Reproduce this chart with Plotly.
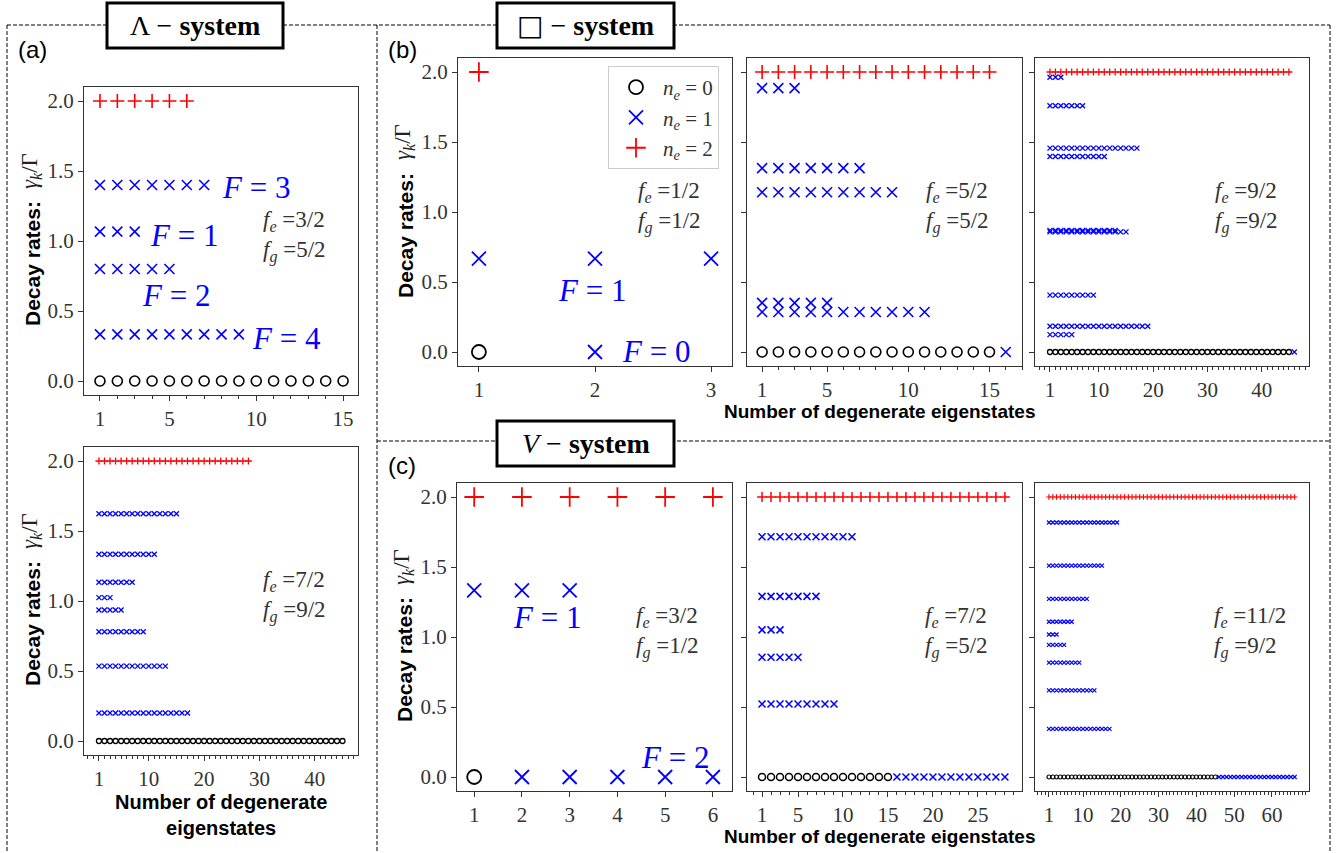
import plotly.graph_objects as go

W, H = 1342, 853

# ---------------- data ----------------
# each panel: number of n_e=0 states, n_e=2 states,
# n_e=1 decay-rate levels with their degeneracies, and n_e=1 states with zero rate
A1_N0, A1_N2 = 15, 6
A1_RATES = [1.4, 1.067, 0.8, 0.333]
A1_COUNTS = [7, 3, 5, 9]
A1_ZERO = 0

A2_N0, A2_N2 = 45, 28
A2_RATES = [1.623, 1.334, 1.134, 1.024, 0.936, 0.780, 0.535, 0.200]
A2_COUNTS = [15, 11, 7, 3, 5, 9, 13, 17]
A2_ZERO = 0

B1_N0, B1_N2 = 1, 1
B1_RATES = [0.667]
B1_COUNTS = [3]
B1_ZERO = 1

B2_N0, B2_N2 = 15, 15
B2_RATES = [1.885, 1.313, 1.141, 0.351, 0.286]
B2_COUNTS = [3, 7, 9, 5, 11]
B2_ZERO = 1

B3_N0, B3_N2 = 45, 45
B3_RATES = [1.962, 1.759, 1.456, 1.396, 0.868, 0.858, 0.406, 0.184, 0.124]
B3_COUNTS = [3, 7, 17, 11, 13, 15, 9, 19, 5]
B3_ZERO = 1

C1_N0, C1_N2 = 1, 6
C1_RATES = [1.333]
C1_COUNTS = [3]
C1_ZERO = 5

C2_N0, C2_N2 = 15, 28
C2_RATES = [1.716, 1.290, 1.051, 0.855, 0.521]
C2_COUNTS = [11, 7, 3, 5, 9]
C2_ZERO = 13

C3_N0, C3_N2 = 45, 66
C3_RATES = [1.818, 1.510, 1.272, 1.109, 1.018, 0.944, 0.817, 0.619, 0.344]
C3_COUNTS = [19, 15, 11, 7, 3, 5, 9, 13, 17]
C3_ZERO = 21

Y_TICKS = [0, 0.5, 1.0, 1.5, 2.0]
Y_TICK_TEXT = ["0.0", "0.5", "1.0", "1.5", "2.0"]
A1_XTICKS = [1, 5, 10, 15]
A2_XTICKS = [1, 10, 20, 30, 40]
B1_XTICKS = [1, 2, 3]
B2_XTICKS = [1, 5, 10, 15]
B3_XTICKS = [1, 10, 20, 30, 40]
C1_XTICKS = [1, 2, 3, 4, 5, 6]
C2_XTICKS = [1, 5, 10, 15, 20, 25]
C3_XTICKS = [1, 10, 20, 30, 40, 50, 60]

FE_FG = {
    "a1": ("3/2", "5/2"), "a2": ("7/2", "9/2"),
    "b1": ("1/2", "1/2"), "b2": ("5/2", "5/2"), "b3": ("9/2", "9/2"),
    "c1": ("3/2", "1/2"), "c2": ("7/2", "5/2"), "c3": ("11/2", "9/2"),
}

SERIF = "Liberation Serif"
SANS = "Liberation Sans"
BLUE = "#0000ff"
RED = "#ff0000"


def px_x(p):
    return p / W


def px_y(p):
    return 1 - p / H


panels = [
    dict(key="a1", box=(84, 358, 87, 395), xr=(0.08, 15.86), n0=A1_N0, n2=A1_N2, rates=A1_RATES,
         counts=A1_COUNTS, zero=A1_ZERO, ticks=A1_XTICKS, minor=True, ms=10, lw=1.6, ylab=32, fx=261),
    dict(key="a2", box=(84, 358, 447, 755), xr=(-1.7, 47.8), n0=A2_N0, n2=A2_N2, rates=A2_RATES,
         counts=A2_COUNTS, zero=A2_ZERO, ticks=A2_XTICKS, minor=True, ms=5, lw=1.3, ylab=32, fx=261),
    dict(key="b1", box=(458, 732, 58, 366), xr=(0.82, 3.18), n0=B1_N0, n2=B1_N2, rates=B1_RATES,
         counts=B1_COUNTS, zero=B1_ZERO, ticks=B1_XTICKS, minor=False, ms=14, lw=1.8, ylab=405, fx=636),
    dict(key="b2", box=(747, 1022, 58, 366), xr=(0.07, 17.0), n0=B2_N0, n2=B2_N2, rates=B2_RATES,
         counts=B2_COUNTS, zero=B2_ZERO, ticks=B2_XTICKS, minor=True, ms=10, lw=1.6, ylab=None, fx=924),
    dict(key="b3", box=(1035, 1309, 58, 366), xr=(-1.76, 48.7), n0=B3_N0, n2=B3_N2, rates=B3_RATES,
         counts=B3_COUNTS, zero=B3_ZERO, ticks=B3_XTICKS, minor=True, ms=5, lw=1.3, ylab=None, fx=1213),
    dict(key="c1", box=(457, 732, 483, 791), xr=(0.64, 6.4), n0=C1_N0, n2=C1_N2, rates=C1_RATES,
         counts=C1_COUNTS, zero=C1_ZERO, ticks=C1_XTICKS, minor=False, ms=14, lw=1.8, ylab=404, fx=634),
    dict(key="c2", box=(747, 1022, 483, 791), xr=(-0.67, 29.9), n0=C2_N0, n2=C2_N2, rates=C2_RATES,
         counts=C2_COUNTS, zero=C2_ZERO, ticks=C2_XTICKS, minor=True, ms=7, lw=1.5, ylab=None, fx=923),
    dict(key="c3", box=(1035, 1309, 483, 791), xr=(-2.7, 69.8), n0=C3_N0, n2=C3_N2, rates=C3_RATES,
         counts=C3_COUNTS, zero=C3_ZERO, ticks=C3_XTICKS, minor=True, ms=4, lw=1.2, ylab=None, fx=1212),
]

fig = go.Figure()
layout = dict(width=W, height=H, margin=dict(l=0, r=0, t=0, b=0),
              paper_bgcolor="white", plot_bgcolor="white", showlegend=True)
annotations = []
shapes = []

for i, p in enumerate(panels, start=1):
    xa = "x" if i == 1 else f"x{i}"
    ya = "y" if i == 1 else f"y{i}"
    xkey = "xaxis" if i == 1 else f"xaxis{i}"
    ykey = "yaxis" if i == 1 else f"yaxis{i}"
    l, r, t, b = p["box"]
    show = p["key"] == "b1"

    # n_e = 0
    x0 = list(range(1, p["n0"] + 1))
    fig.add_trace(go.Scatter(
        x=x0, y=[0.0] * len(x0), mode="markers", xaxis=xa, yaxis=ya,
        name="<i>n</i><sub><i>e</i></sub> = 0", showlegend=show, legendrank=1,
        marker=dict(symbol="circle-open", size=p["ms"], color="black",
                    line=dict(color="black", width=p["lw"]))))
    # n_e = 1
    x1, y1 = [], []
    for rate, cnt in zip(p["rates"], p["counts"]):
        for k in range(cnt):
            x1.append(k + 1)
            y1.append(rate)
    for k in range(p["zero"]):
        x1.append(p["n0"] + 1 + k)
        y1.append(0.0)
    fig.add_trace(go.Scatter(
        x=x1, y=y1, mode="markers", xaxis=xa, yaxis=ya,
        name="<i>n</i><sub><i>e</i></sub> = 1", showlegend=show, legendrank=2,
        marker=dict(symbol="x-thin-open", size=p["ms"], color=BLUE,
                    line=dict(color=BLUE, width=p["lw"]))))
    # n_e = 2
    x2 = list(range(1, p["n2"] + 1))
    fig.add_trace(go.Scatter(
        x=x2, y=[2.0] * len(x2), mode="markers", xaxis=xa, yaxis=ya,
        name="<i>n</i><sub><i>e</i></sub> = 2", showlegend=show, legendrank=3,
        marker=dict(symbol="cross-thin-open", size=p["ms"], color=RED,
                    line=dict(color=RED, width=p["lw"]))))

    xaxis = dict(domain=[px_x(l), px_x(r)], range=list(p["xr"]), anchor=ya,
                 tickmode="array", tickvals=p["ticks"], ticktext=[str(v) for v in p["ticks"]],
                 ticks="outside", ticklen=5, tickwidth=1, tickcolor="#333",
                 showline=True, linecolor="#333", linewidth=1, mirror=True,
                 showgrid=False, zeroline=False,
                 tickfont=dict(family=SERIF, size=21, color="#333"))
    if p["minor"]:
        xaxis["minor"] = dict(ticks="outside", ticklen=3, tickwidth=1, tickcolor="#333",
                              tickmode="linear", tick0=0, dtick=1, showgrid=False)
    yaxis = dict(domain=[px_y(b), px_y(t)], range=[-0.1, 2.1], anchor=xa,
                 tickmode="array", tickvals=Y_TICKS, ticktext=Y_TICK_TEXT,
                 ticks="outside", ticklen=5, tickwidth=1, tickcolor="#333",
                 showticklabels=p["ylab"] is not None,
                 showline=True, linecolor="#333", linewidth=1, mirror=True,
                 showgrid=False, zeroline=False,
                 tickfont=dict(family=SERIF, size=21, color="#333"))
    layout[xkey] = xaxis
    layout[ykey] = yaxis

    fe, fg = FE_FG[p["key"]]
    annotations.append(dict(xref="paper", yref=ya, x=px_x(p["fx"]), y=1.14, xanchor="left", yanchor="middle",
                            showarrow=False, text="<i>f</i><sub><i>e</i></sub> =" + fe,
                            font=dict(family=SERIF, size=23, color="#333")))
    annotations.append(dict(xref="paper", yref=ya, x=px_x(p["fx"]), y=0.925, xanchor="left", yanchor="middle",
                            showarrow=False, text="<i>f</i><sub><i>g</i></sub> =" + fg,
                            font=dict(family=SERIF, size=23, color="#333")))

    if p["ylab"] is not None:
        cy = (t + b) / 2
        annotations.append(dict(xref="paper", yref="paper", x=px_x(p["ylab"]), y=px_y(cy + 23),
                                xanchor="center", yanchor="middle", textangle=-90, showarrow=False,
                                text="<b>Decay rates:</b>",
                                font=dict(family=SANS, size=21, color="black")))
        annotations.append(dict(xref="paper", yref="paper", x=px_x(p["ylab"] - 1), y=px_y(cy - 70),
                                xanchor="center", yanchor="middle", textangle=-90, showarrow=False,
                                text="<i>γ</i><sub><i>k</i></sub>/Γ",
                                font=dict(family=SERIF, size=23, color="#222")))

# F labels
F_LABELS = [
    ("3", 222, 187), ("1", 150, 235), ("2", 142, 295), ("4", 252, 338),
    ("1", 558, 290), ("0", 622, 352),
    ("1", 513, 617), ("2", 641, 757),
]
for num, lx, cy in F_LABELS:
    annotations.append(dict(xref="paper", yref="paper", x=px_x(lx - 2), y=px_y(cy), xanchor="left",
                            yanchor="middle", showarrow=False,
                            text="<i>F</i> = " + num,
                            font=dict(family=SERIF, size=31, color=BLUE)))

# x axis titles
annotations.append(dict(xref="paper", yref="paper", x=px_x(221), y=px_y(815), xanchor="center",
                        yanchor="middle", showarrow=False,
                        text="<b>Number of degenerate</b><br><b>eigenstates</b>",
                        font=dict(family=SANS, size=20, color="black")))
annotations.append(dict(xref="paper", yref="paper", x=px_x(880), y=px_y(411), xanchor="center",
                        yanchor="middle", showarrow=False, text="<b>Number of degenerate eigenstates</b>",
                        font=dict(family=SANS, size=19, color="black")))
annotations.append(dict(xref="paper", yref="paper", x=px_x(880), y=px_y(836), xanchor="center",
                        yanchor="middle", showarrow=False, text="<b>Number of degenerate eigenstates</b>",
                        font=dict(family=SANS, size=19, color="black")))

# panel letters
for txt, lx, cy in [("(a)", 16, 50), ("(b)", 386, 50), ("(c)", 386, 465)]:
    annotations.append(dict(xref="paper", yref="paper", x=px_x(lx), y=px_y(cy), xanchor="left",
                            yanchor="middle", showarrow=False, text=txt,
                            font=dict(family=SANS, size=24, color="black")))

# dashed frames
dash = dict(color="black", width=1, dash="4px,2px")
for (x0_, y0_, x1_, y1_) in [(7, 25, 7, 860), (7, 25, 1330, 25), (377, 25, 377, 860),
                             (1330, 25, 1330, 860), (377, 441, 1330, 441)]:
    shapes.append(dict(type="line", xref="paper", yref="paper", x0=px_x(x0_), y0=px_y(y0_),
                       x1=px_x(x1_), y1=px_y(y1_), line=dash, layer="below"))

# title boxes
TITLES = [
    ("Λ − <b>system</b>", 107, 283, 3, 48),
    ("<span style=\"font-family:'DejaVu Sans'\">□</span> − <b>system</b>", 497, 674, 3, 48),
    ("<i>V</i> − <b>system</b>", 497, 674, 421, 466),
]
for txt, x0_, x1_, y0_, y1_ in TITLES:
    shapes.append(dict(type="rect", xref="paper", yref="paper", x0=px_x(x0_), x1=px_x(x1_),
                       y0=px_y(y1_), y1=px_y(y0_), line=dict(color="black", width=3),
                       fillcolor="white", layer="above"))
    annotations.append(dict(xref="paper", yref="paper", x=px_x((x0_ + x1_) / 2), y=px_y((y0_ + y1_) / 2),
                            xanchor="center", yanchor="middle", showarrow=False, text=txt,
                            font=dict(family=SERIF, size=28, color="black")))

layout["annotations"] = annotations
layout["shapes"] = shapes
layout["legend"] = dict(x=px_x(608), y=px_y(66), xanchor="left", yanchor="top",
                        bordercolor="#cccccc", borderwidth=1, bgcolor="white", itemwidth=44,
                        font=dict(family=SERIF, size=21, color="#333"), tracegroupgap=0)
fig.update_layout(**layout)
fig.write_html("out.html", config={"displayModeBar": False},
               post_script="document.body.style.margin='0';document.body.style.overflow='hidden';")
